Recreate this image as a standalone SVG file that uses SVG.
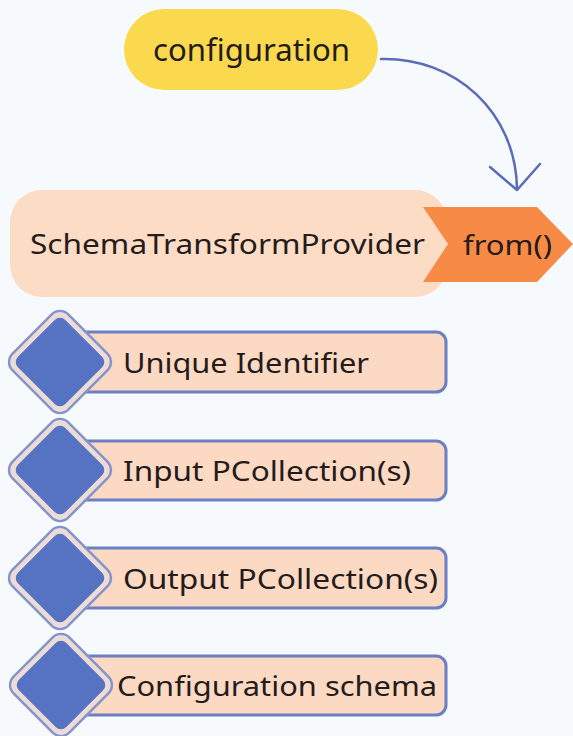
<svg xmlns="http://www.w3.org/2000/svg" width="573" height="736" viewBox="0 0 573 736">
  <style>
    .lbl { font-family: "Noto Sans", "Open Sans", "Liberation Sans", sans-serif; fill: #241b1b; }
    .bar { fill: #fcd9c3; stroke: #6b7fc4; stroke-width: 3; }
    .dia-ring { fill: #5672c3; stroke: #eddcd6; stroke-width: 5; }
    .dia-edge { fill: none; stroke: #8593cb; stroke-width: 2.5; }
    .conn { fill: none; stroke: #5b6bb8; stroke-width: 2.5; stroke-linecap: round; stroke-linejoin: round; }
  </style>
  <defs>
    <!-- rounded diamond badge, centred on 0,0 -->
    <g id="badge">
      <rect class="dia-ring" x="-36" y="-36" width="72" height="72" rx="10" transform="rotate(45)"/>
      <rect class="dia-edge" x="-39.5" y="-39.5" width="79" height="79" rx="12" transform="rotate(45)"/>
    </g>
  </defs>

  <rect width="573" height="736" fill="#f6fafd"/>

  <g id="connectors">
    <path class="conn" d="M381,59 C455,57 516,112 517,189"/>
    <path class="conn" d="M490,167 L517,190 L540,164"/>
  </g>

  <g id="configuration">
    <rect x="124" y="9" width="254" height="81" rx="40.5" fill="#fad94e"/>
    <text class="lbl" x="153" y="61" font-size="30" textLength="197" lengthAdjust="spacingAndGlyphs">configuration</text>
  </g>

  <g id="provider">
    <rect x="10" y="190" width="437" height="107" rx="32" fill="#fddcc6"/>
    <text class="lbl" x="30" y="254" font-size="28" textLength="395" lengthAdjust="spacingAndGlyphs">SchemaTransformProvider</text>
  </g>

  <g id="from">
    <polygon points="423,207 537,207 573,244 537,282 423,282 448,244" fill="#f78a45"/>
    <text class="lbl" x="463" y="255" font-size="28" textLength="89" lengthAdjust="spacingAndGlyphs">from()</text>
  </g>

  <g id="unique-identifier">
    <rect class="bar" x="60" y="332" width="386" height="60" rx="10"/>
    <use href="#badge" x="60" y="362"/>
    <text class="lbl" x="123" y="373" font-size="28" textLength="246" lengthAdjust="spacingAndGlyphs">Unique Identifier</text>
  </g>

  <g id="input-pcollections">
    <rect class="bar" x="60" y="441" width="386" height="59" rx="10"/>
    <use href="#badge" x="60" y="470"/>
    <text class="lbl" x="123" y="481" font-size="28" textLength="288" lengthAdjust="spacingAndGlyphs">Input PCollection(s)</text>
  </g>

  <g id="output-pcollections">
    <rect class="bar" x="60" y="548" width="386" height="60" rx="10"/>
    <use href="#badge" x="60" y="578"/>
    <text class="lbl" x="123" y="589" font-size="28" textLength="315" lengthAdjust="spacingAndGlyphs">Output PCollection(s)</text>
  </g>

  <g id="configuration-schema">
    <rect class="bar" x="60" y="656" width="386" height="59" rx="10"/>
    <use href="#badge" x="61" y="685"/>
    <text class="lbl" x="117" y="696" font-size="28" textLength="320" lengthAdjust="spacingAndGlyphs">Configuration schema</text>
  </g>
</svg>
